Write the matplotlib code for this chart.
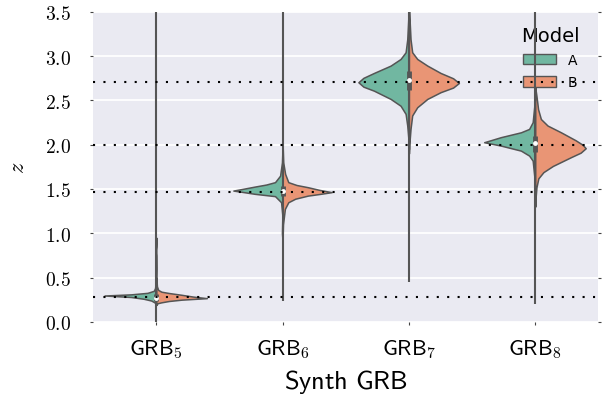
import numpy as np
import matplotlib
matplotlib.use('Agg')
import matplotlib.pyplot as plt
from matplotlib.patches import Patch
from matplotlib.ticker import FormatStrFormatter

# Categorias e valores verdadeiros de z
grbs = ['GRB5', 'GRB6', 'GRB7', 'GRB8']
grb_labels = [r'$\mathsf{GRB}_{5}$', r'$\mathsf{GRB}_{6}$', r'$\mathsf{GRB}_{7}$', r'$\mathsf{GRB}_{8}$']
z_true = [0.28, 1.47, 2.71, 2.0]

# Perfis de densidade (meia largura) de cada modelo
z_a5 = [0.20, 0.22, 0.24, 0.26, 0.28, 0.297, 0.31, 0.327, 0.35, 0.38, 0.45, 0.60, 0.75, 0.80, 0.85, 0.95]
w_a5 = [0.0, 0.015, 0.04, 0.10, 0.20, 0.41, 0.20, 0.07, 0.02, 0.01, 0.004, 0.002, 0.003, 0.006, 0.002, 0.0]
z_b5 = [0.19, 0.21, 0.22, 0.235, 0.25, 0.267, 0.285, 0.305, 0.325, 0.34, 0.36, 0.40, 0.50]
w_b5 = [0.0, 0.01, 0.04, 0.10, 0.20, 0.40, 0.29, 0.20, 0.10, 0.04, 0.015, 0.005, 0.0]

z_a6 = [0.90, 1.00, 1.07, 1.20, 1.35, 1.419, 1.445, 1.465, 1.482, 1.50, 1.527, 1.55, 1.577, 1.65, 1.80, 2.00]
w_a6 = [0.0, 0.005, 0.004, 0.002, 0.012, 0.06, 0.22, 0.31, 0.39, 0.32, 0.22, 0.13, 0.06, 0.02, 0.005, 0.0]
z_b6 = [0.95, 1.10, 1.275, 1.35, 1.39, 1.425, 1.445, 1.464, 1.49, 1.52, 1.545, 1.577, 1.67, 1.80, 2.00]
w_b6 = [0.0, 0.003, 0.018, 0.045, 0.10, 0.20, 0.30, 0.388, 0.29, 0.20, 0.11, 0.045, 0.02, 0.005, 0.0]

z_a7 = [1.95, 2.065, 2.215, 2.348, 2.44, 2.517, 2.61, 2.655, 2.705, 2.755, 2.81, 2.893, 2.968, 3.044, 3.19, 3.42, 3.55]
w_a7 = [0.0, 0.004, 0.013, 0.026, 0.066, 0.145, 0.277, 0.36, 0.40, 0.36, 0.277, 0.145, 0.066, 0.026, 0.013, 0.005, 0.0]
z_b7 = [1.90, 2.00, 2.18, 2.33, 2.423, 2.517, 2.593, 2.645, 2.697, 2.75, 2.81, 2.893, 2.968, 3.044, 3.19, 3.42, 3.55]
w_b7 = [0.0, 0.003, 0.013, 0.026, 0.066, 0.146, 0.251, 0.35, 0.396, 0.35, 0.251, 0.146, 0.066, 0.026, 0.013, 0.005, 0.0]

z_a8 = [1.40, 1.60, 1.82, 1.877, 1.933, 1.99, 2.028, 2.085, 2.14, 2.178, 2.254, 2.48, 2.60]
w_a8 = [0.0, 0.004, 0.02, 0.048, 0.113, 0.272, 0.404, 0.272, 0.113, 0.048, 0.02, 0.004, 0.0]
z_b8 = [1.30, 1.40, 1.52, 1.62, 1.69, 1.76, 1.859, 1.91, 1.96, 2.00, 2.05, 2.14, 2.216, 2.29, 2.40, 2.55, 2.65]
w_b8 = [0.0, 0.003, 0.01, 0.025, 0.065, 0.14, 0.283, 0.36, 0.40, 0.375, 0.32, 0.204, 0.098, 0.045, 0.023, 0.01, 0.0]

# Quartis, mediana e extremos das amostras
q25 = [0.24, 1.425, 2.622, 1.915]
q75 = [0.316, 1.53, 2.836, 2.10]
median = [0.27, 1.48, 2.73, 2.02]
wlo = [0.0, 0.23, 0.45, 0.20]
whi = [3.6, 3.6, 3.52, 3.6]

perfis_a = [(z_a5, w_a5), (z_a6, w_a6), (z_a7, w_a7), (z_a8, w_a8)]
perfis_b = [(z_b5, w_b5), (z_b6, w_b6), (z_b7, w_b7), (z_b8, w_b8)]

cor_a = '#71b7a1'
cor_b = '#e99575'
cinza = '#555555'

plt.rcParams['mathtext.fontset'] = 'cm'

fig = plt.figure(figsize=(6.05, 4.02), dpi=100)
ax = fig.add_axes([0.154, 0.197, 0.835, 0.771])
ax.set_facecolor('#eaeaf2')
for s in ax.spines.values():
    s.set_visible(False)
ax.set_axisbelow(True)
ax.yaxis.grid(True, color='white', lw=1.3)

# Violinos divididos: A à esquerda, B à direita
for i in range(len(grbs)):
    za, wa = perfis_a[i]
    zb, wb = perfis_b[i]
    ax.fill_betweenx(za, i - np.array(wa), i, facecolor=cor_a, edgecolor=cinza, lw=1.1, zorder=2)
    ax.fill_betweenx(zb, i, i + np.array(wb), facecolor=cor_b, edgecolor=cinza, lw=1.1, zorder=2)
    ax.plot([i, i], [wlo[i], whi[i]], color=cinza, lw=1.5, solid_capstyle='butt', zorder=3)
    ax.plot([i, i], [q25[i], q75[i]], color=cinza, lw=3.5, solid_capstyle='butt', zorder=3)
    ax.scatter([i], [median[i]], s=6, color='white', zorder=4)

for z in z_true:
    ax.axhline(z, color='black', lw=1.5, ls=(0, (1, 4)), zorder=5)

ax.set_xlim(-0.5, 3.5)
ax.set_ylim(0, 3.5)
ax.set_xticks(range(len(grbs)))
ax.set_xticklabels(grb_labels, fontsize=16)
ax.set_yticks(np.arange(0, 3.51, 0.5))
ax.yaxis.set_major_formatter(FormatStrFormatter(r'$%.1f$'))
ax.tick_params(axis='y', labelsize=14, length=2, color='#444444', right=True, pad=14)
ax.tick_params(axis='x', length=2, color='#444444', pad=9)
ax.set_xlabel(r'$\mathsf{Synth\ GRB}$', fontsize=19, labelpad=5)
ax.set_ylabel(r'$z$', fontsize=16, labelpad=12)

handles = [Patch(facecolor=cor_a, edgecolor=cinza, label='A'),
           Patch(facecolor=cor_b, edgecolor=cinza, label='B')]
leg = ax.legend(handles=handles, title='Model', frameon=False, loc='upper right',
                bbox_to_anchor=(0.99, 1.0), title_fontsize=14,
                handlelength=2.4, handleheight=0.75, labelspacing=0.6, handletextpad=0.8,
                borderaxespad=0.6, prop={'family': 'DejaVu Sans', 'size': 10})
leg.set_zorder(1.5)

fig.savefig('out.png', dpi=100)
